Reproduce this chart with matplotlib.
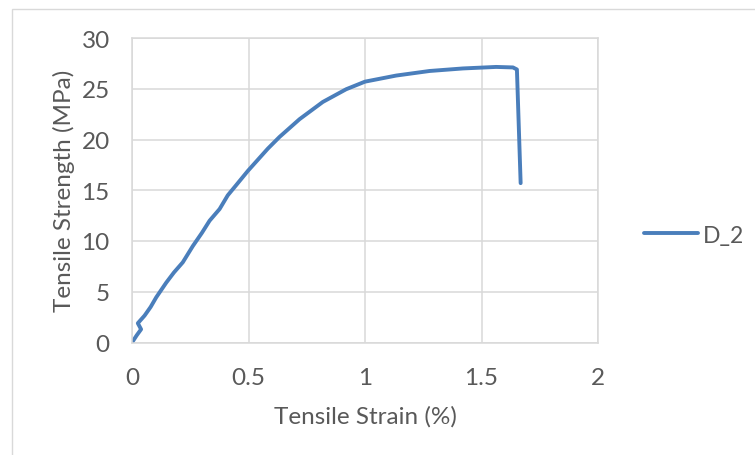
import numpy as np
import matplotlib
matplotlib.use("Agg")
import matplotlib.pyplot as plt
from matplotlib.patches import Rectangle

plt.rcParams['font.family'] = ['Lato', 'DejaVu Sans']

# strain (%) vs strength (MPa)
strain = [0.0, 0.003, 0.02, 0.039, 0.025, 0.054, 0.08, 0.104, 0.147, 0.18, 0.218,
          0.261, 0.3, 0.333, 0.376, 0.411, 0.447, 0.497, 0.54, 0.583, 0.633,
          0.719, 0.819, 0.919, 1.0, 1.134, 1.277, 1.42, 1.563, 1.635, 1.652,
          1.668]
strength = [0.0, 0.1, 0.7, 1.3, 1.9, 2.65, 3.5, 4.45, 5.9, 6.9, 7.9,
            9.5, 10.8, 12.0, 13.15, 14.5, 15.5, 16.9, 18.0, 19.1, 20.25,
            22.0, 23.7, 24.95, 25.7, 26.3, 26.75, 27.0, 27.15, 27.1, 26.9,
            15.7]
series_name = "D_2"

xticks = [0, 0.5, 1, 1.5, 2]
xtick_labels = ["0", "0.5", "1", "1.5", "2"]
yticks = [0, 5, 10, 15, 20, 25, 30]

W, H = 755, 456
fig = plt.figure(figsize=(W / 100, H / 100), dpi=100)

# chart area frame (cut off at right and bottom in the reference)
fig.patches.append(Rectangle((12 / W, -0.1), 2.0, 1 - 10 / H + 0.1,
                             transform=fig.transFigure, fill=False,
                             edgecolor="#d9d9d9", linewidth=1.0))

ax = fig.add_axes([132 / W, 1 - 343.5 / H, (598 - 132) / W, (343.5 - 39) / H])
line, = ax.plot(strain, strength, color="#4a7ebb", linewidth=2.8,
                solid_joinstyle="round", solid_capstyle="round", label=series_name)

ax.set_xlim(0, 2)
ax.set_ylim(0, 30)
ax.set_xticks(xticks)
ax.set_xticklabels(xtick_labels)
ax.set_yticks(yticks)
ax.grid(True, color="#d9d9d9", linewidth=1.1)
ax.set_axisbelow(True)
for s in ax.spines.values():
    s.set_color("#d9d9d9")
    s.set_linewidth(1.1)
ax.tick_params(length=0, labelsize=17.5, colors="#595959")
ax.tick_params(axis="y", pad=16)
ax.tick_params(axis="x", pad=18)

ax.set_xlabel("Tensile Strain (%)", fontsize=17.5, color="#595959", labelpad=12)
ax.set_ylabel("Tensile Strength (MPa)", fontsize=17.5, color="#595959", labelpad=5)

fig.legend(handles=[line], loc="center left",
           bbox_to_anchor=(644 / W, 1 - 236 / H), frameon=False,
           borderpad=0, borderaxespad=0,
           fontsize=16.5, handlelength=2.35, handletextpad=0.2,
           labelcolor="#595959")

fig.savefig("out.png", dpi=100)
